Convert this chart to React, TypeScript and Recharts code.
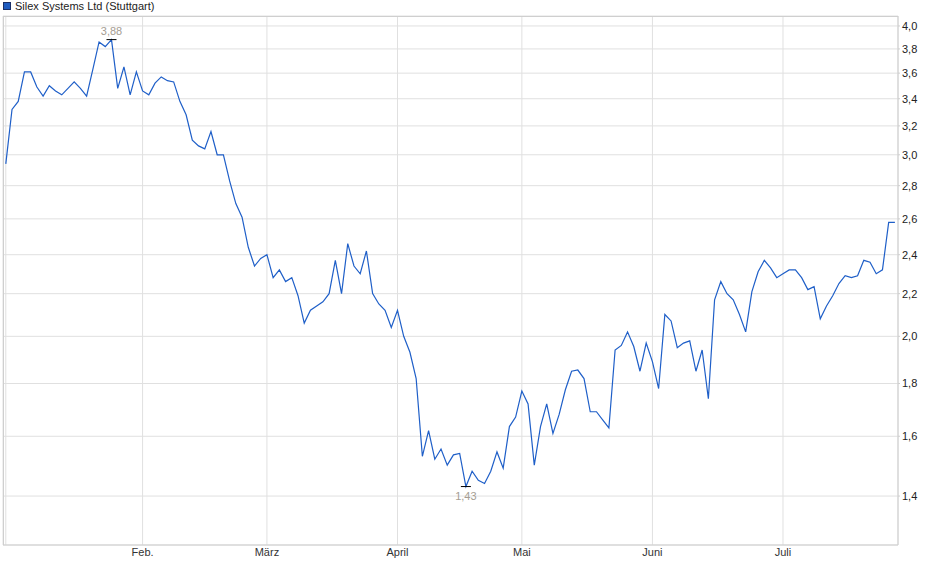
import React from "react";
import { LineChart, Line, XAxis, YAxis, CartesianGrid, ReferenceDot } from "recharts";

const TITLE = "Silex Systems Ltd (Stuttgart)";

// one close per trading day, 2 Jan – 25 Jul
const prices = [
  2.94, 3.32, 3.38, 3.61, 3.61, 3.49, 3.42, 3.5, 3.46, 3.43,
  3.48, 3.53, 3.48, 3.42, 3.63, 3.86, 3.82, 3.88, 3.48, 3.65,
  3.43, 3.61, 3.46, 3.43, 3.52, 3.57, 3.54, 3.53, 3.38, 3.28,
  3.1, 3.06, 3.04, 3.16, 3.0, 3.0, 2.83, 2.69, 2.61, 2.44,
  2.34, 2.38, 2.4, 2.28, 2.32, 2.26, 2.28, 2.19, 2.06, 2.12,
  2.14, 2.16, 2.2, 2.37, 2.2, 2.46, 2.34, 2.3, 2.42, 2.2,
  2.15, 2.12, 2.04, 2.12, 2.0, 1.93, 1.82, 1.53, 1.62, 1.52,
  1.555, 1.5, 1.535, 1.54, 1.43, 1.48, 1.45, 1.44, 1.48, 1.545,
  1.49, 1.635, 1.67, 1.77, 1.72, 1.5, 1.635, 1.72, 1.61, 1.68,
  1.775, 1.85, 1.855, 1.82, 1.69, 1.69, 1.66, 1.63, 1.94, 1.96,
  2.02, 1.955, 1.85, 1.97, 1.89, 1.78, 2.1, 2.07, 1.95, 1.97,
  1.98, 1.85, 1.94, 1.74, 2.17, 2.26, 2.2, 2.17, 2.1, 2.02,
  2.21, 2.31, 2.37, 2.33, 2.28, 2.3, 2.32, 2.32, 2.28, 2.22,
  2.235, 2.08, 2.14, 2.19, 2.25, 2.29, 2.28, 2.29, 2.37, 2.36,
  2.3, 2.32, 2.58, 2.58,
];

// index of the first trading day of each month
const monthTickIdx = [0, 22, 42, 63, 83, 104, 125];
const monthLabels = ["", "Feb.", "März", "April", "Mai", "Juni", "Juli"];

const priceTicks = [1.4, 1.6, 1.8, 2.0, 2.2, 2.4, 2.6, 2.8, 3.0, 3.2, 3.4, 3.6, 3.8, 4.0];

const FONT = '"Liberation Sans", Arial, sans-serif';
const LINE_COLOR = "#1f5fc8";
const GRID = "#e0e0e0";
const FRAME = "#cfcfcf";

const data = prices.map((p, i) => ({ i, p }));
const maxIdx = prices.indexOf(Math.max(...prices));
const minIdx = prices.indexOf(Math.min(...prices));

const comma = (v: number, d: number) => v.toFixed(d).replace(".", ",");

function Extreme(props: any, below: boolean, value: number) {
  const { cx, cy } = props;
  if (cx == null || cy == null) return <g />;
  return (
    <g>
      <line x1={cx - 5} x2={cx + 5} y1={cy} y2={cy} stroke="#000" strokeWidth={1} />
      <text
        x={cx}
        y={below ? cy + 13 : cy - 5}
        textAnchor="middle"
        fontSize={11}
        fontFamily={FONT}
        fill="#a59d92"
      >
        {comma(value, 2)}
      </text>
    </g>
  );
}

export default function App() {
  return (
    <div style={{ position: "absolute", left: 0, top: 0, width: 940, height: 579, background: "#fff", fontFamily: FONT }}>
      <div style={{ position: "absolute", left: 3, top: 2, width: 6, height: 6, background: "#1f5cc0", border: "1px solid #1b2f66" }} />
      <div style={{ position: "absolute", left: 15, top: -1, fontSize: 11, color: "#222", lineHeight: "14px" }}>{TITLE}</div>
      <LineChart width={940} height={579} data={data} margin={{ top: 16, right: 0, bottom: 0, left: 3 }}>
        <CartesianGrid stroke={GRID} />
        <XAxis
          dataKey="i"
          type="number"
          domain={[-0.45, 143.5]}
          allowDataOverflow
          ticks={monthTickIdx}
          interval={0}
          tickFormatter={(v: number) => monthLabels[monthTickIdx.indexOf(v)] ?? ""}
          height={34}
          tickLine={false}
          tickSize={0}
          tickMargin={3}
          axisLine={{ stroke: FRAME }}
          tick={{ fontSize: 11, fill: "#333", fontFamily: FONT }}
        />
        <YAxis
          orientation="right"
          type="number"
          scale="log"
          domain={[1.255, 4.09]}
          allowDataOverflow
          ticks={priceTicks}
          interval={0}
          tickFormatter={(v: number) => comma(v, 1)}
          width={42}
          tickSize={2}
          tickMargin={2}
          tickLine={{ stroke: FRAME }}
          axisLine={{ stroke: FRAME }}
          tick={{ fontSize: 11, fill: "#222", fontFamily: FONT }}
        />
        <Line
          type="linear"
          dataKey="p"
          stroke={LINE_COLOR}
          strokeWidth={1.2}
          dot={false}
          activeDot={false}
          isAnimationActive={false}
        />
        <ReferenceDot
          x={maxIdx}
          y={prices[maxIdx]}
          r={0}
          ifOverflow="visible"
          shape={(p: any) => Extreme(p, false, prices[maxIdx])}
        />
        <ReferenceDot
          x={minIdx}
          y={prices[minIdx]}
          r={0}
          ifOverflow="visible"
          shape={(p: any) => Extreme(p, true, prices[minIdx])}
        />
      </LineChart>
      <div
        style={{
          position: "absolute",
          left: 3,
          top: 16,
          width: 895,
          height: 529,
          borderTop: `1px solid ${FRAME}`,
          borderLeft: `1px solid ${FRAME}`,
          boxSizing: "border-box",
          pointerEvents: "none",
        }}
      />
    </div>
  );
}
